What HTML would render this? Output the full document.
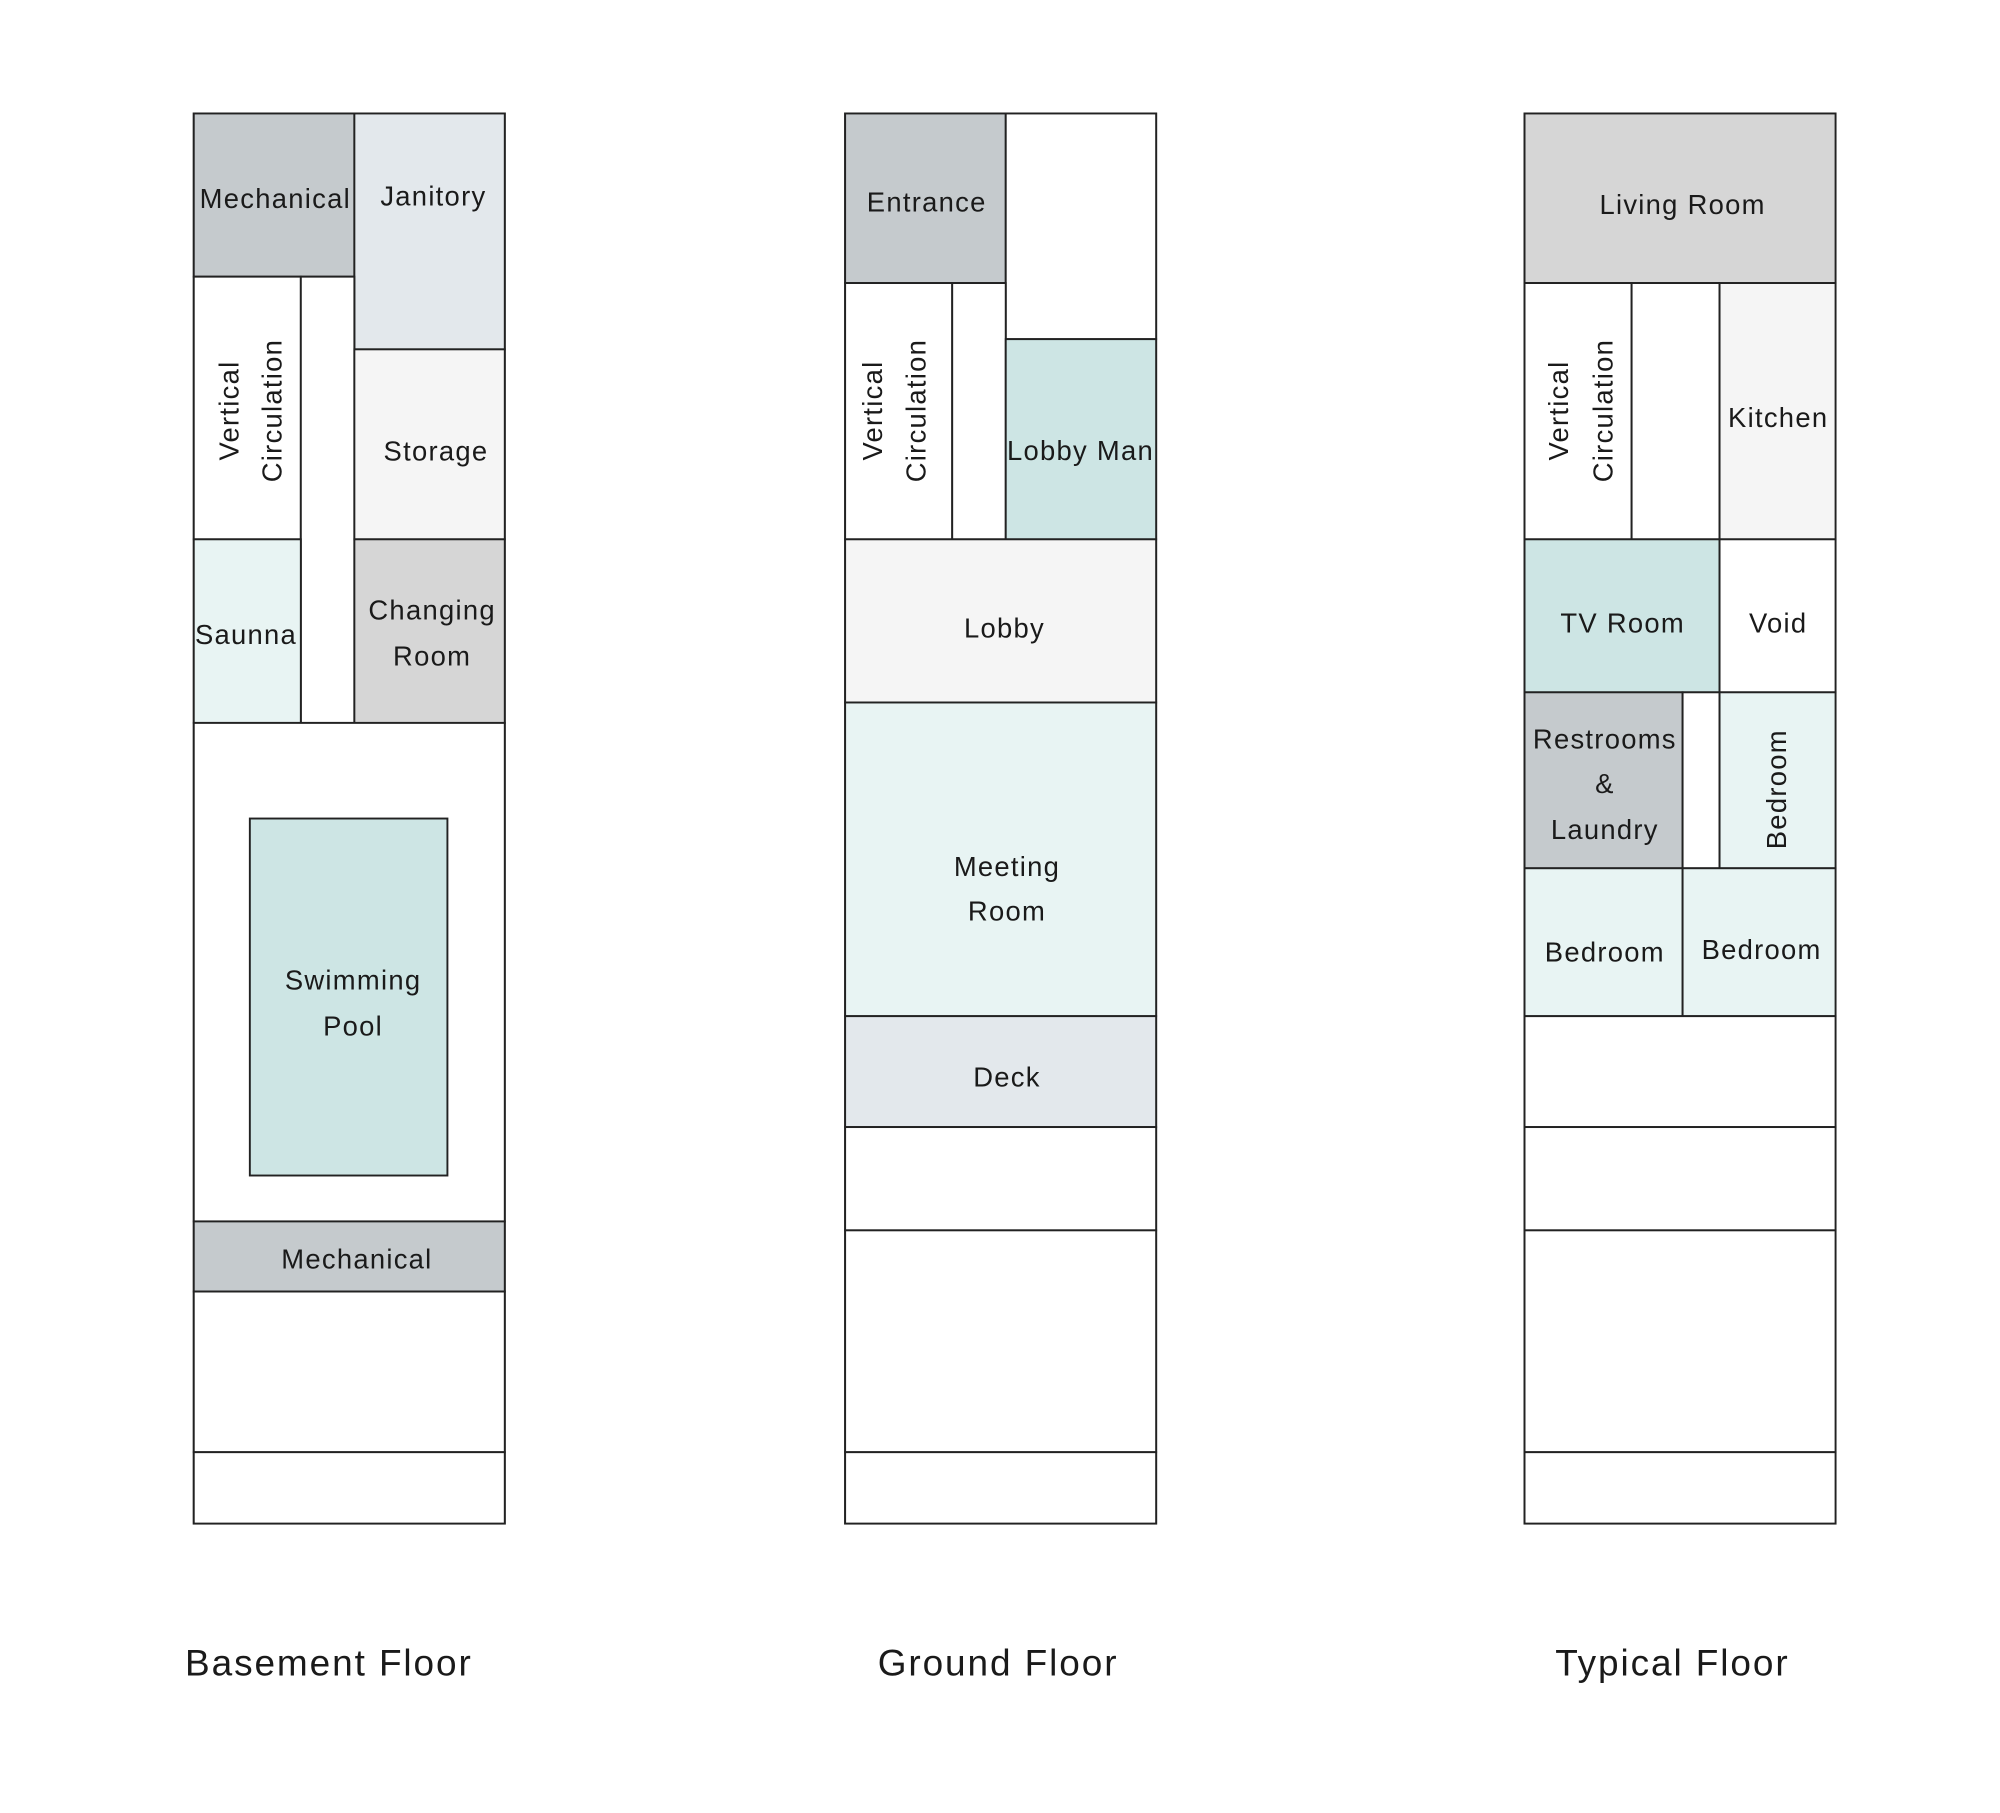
<!DOCTYPE html>
<html><head><meta charset="utf-8"><style>
html,body{margin:0;padding:0;background:#fff;}
svg{display:block;}
text{font-family:"Liberation Sans","DejaVu Sans",sans-serif;fill:#1a1a1a;font-size:21.5px;letter-spacing:1px;}
.t{font-size:29px;letter-spacing:1.5px;}
rect{stroke:#222;stroke-width:1.5;}
</style></head><body>
<svg width="2000" height="1813" viewBox="0 0 1569 1422" preserveAspectRatio="none" xmlns="http://www.w3.org/2000/svg">
<!-- Basement -->
<rect x="152" y="89" width="244" height="1106" fill="#fff"/>
<rect x="152" y="89" width="126" height="128" fill="#c5cacd"/>
<rect x="278" y="89" width="118" height="185" fill="#e3e8ec"/>
<rect x="152" y="217" width="84" height="206" fill="#fff"/>
<rect x="236" y="217" width="42" height="350" fill="#fff"/>
<rect x="278" y="274" width="118" height="149" fill="#f5f5f5"/>
<rect x="152" y="423" width="84" height="144" fill="#e8f4f3"/>
<rect x="278" y="423" width="118" height="144" fill="#d6d6d6"/>
<rect x="152" y="567" width="244" height="391" fill="#fff"/>
<rect x="196" y="642" width="155" height="280" fill="#cde5e4"/>
<rect x="152" y="958" width="244" height="55" fill="#c5cacd"/>
<rect x="152" y="1013" width="244" height="126" fill="#fff"/>
<rect x="152" y="1139" width="244" height="56" fill="#fff"/>
<text x="216" y="163" text-anchor="middle">Mechanical</text>
<text x="340" y="161" text-anchor="middle">Janitory</text>
<text transform="translate(187,322) rotate(-90)" text-anchor="middle">Vertical</text>
<text transform="translate(221,322) rotate(-90)" text-anchor="middle">Circulation</text>
<text x="342" y="361" text-anchor="middle">Storage</text>
<text x="193" y="505" text-anchor="middle">Saunna</text>
<text x="339" y="486" text-anchor="middle">Changing</text>
<text x="339" y="522" text-anchor="middle">Room</text>
<text x="277" y="776" text-anchor="middle">Swimming</text>
<text x="277" y="812" text-anchor="middle">Pool</text>
<text x="280" y="995" text-anchor="middle">Mechanical</text>
<text class="t" x="258" y="1314" text-anchor="middle">Basement Floor</text>
<!-- Ground -->
<rect x="663" y="89" width="244" height="1106" fill="#fff"/>
<rect x="663" y="89" width="126" height="133" fill="#c5cacd"/>
<rect x="789" y="89" width="118" height="177" fill="#fff"/>
<rect x="663" y="222" width="84" height="201" fill="#fff"/>
<rect x="747" y="222" width="42" height="201" fill="#fff"/>
<rect x="789" y="266" width="118" height="157" fill="#cde5e4"/>
<rect x="663" y="423" width="244" height="128" fill="#f5f5f5"/>
<rect x="663" y="551" width="244" height="246" fill="#e8f4f3"/>
<rect x="663" y="797" width="244" height="87" fill="#e3e8ec"/>
<rect x="663" y="884" width="244" height="81" fill="#fff"/>
<rect x="663" y="965" width="244" height="174" fill="#fff"/>
<rect x="663" y="1139" width="244" height="56" fill="#fff"/>
<text x="727" y="166" text-anchor="middle">Entrance</text>
<text transform="translate(692,322) rotate(-90)" text-anchor="middle">Vertical</text>
<text transform="translate(726,322) rotate(-90)" text-anchor="middle">Circulation</text>
<svg x="789" y="266" width="118" height="157"><text x="1" y="95">Lobby Man</text></svg>
<text x="788" y="500" text-anchor="middle">Lobby</text>
<text x="790" y="687" text-anchor="middle">Meeting</text>
<text x="790" y="722" text-anchor="middle">Room</text>
<text x="790" y="852" text-anchor="middle">Deck</text>
<text class="t" x="783" y="1314" text-anchor="middle">Ground Floor</text>
<!-- Typical -->
<rect x="1196" y="89" width="244" height="1106" fill="#fff"/>
<rect x="1196" y="89" width="244" height="133" fill="#d6d6d6"/>
<rect x="1196" y="222" width="84" height="201" fill="#fff"/>
<rect x="1280" y="222" width="69" height="201" fill="#fff"/>
<rect x="1349" y="222" width="91" height="201" fill="#f5f5f5"/>
<rect x="1196" y="423" width="153" height="120" fill="#cde5e4"/>
<rect x="1349" y="423" width="91" height="120" fill="#fff"/>
<rect x="1196" y="543" width="124" height="138" fill="#c5cacd"/>
<rect x="1320" y="543" width="29" height="138" fill="#fff"/>
<rect x="1349" y="543" width="91" height="138" fill="#e8f4f3"/>
<rect x="1196" y="681" width="124" height="116" fill="#e8f4f3"/>
<rect x="1320" y="681" width="120" height="116" fill="#e8f4f3"/>
<rect x="1196" y="797" width="244" height="87" fill="#fff"/>
<rect x="1196" y="884" width="244" height="81" fill="#fff"/>
<rect x="1196" y="965" width="244" height="174" fill="#fff"/>
<rect x="1196" y="1139" width="244" height="56" fill="#fff"/>
<text x="1320" y="168" text-anchor="middle">Living Room</text>
<text transform="translate(1230,322) rotate(-90)" text-anchor="middle">Vertical</text>
<text transform="translate(1265,322) rotate(-90)" text-anchor="middle">Circulation</text>
<text x="1395" y="335" text-anchor="middle">Kitchen</text>
<text x="1273" y="496" text-anchor="middle">TV Room</text>
<text x="1395" y="496" text-anchor="middle">Void</text>
<text x="1259" y="587" text-anchor="middle">Restrooms</text>
<text x="1259" y="622" text-anchor="middle">&amp;</text>
<text x="1259" y="658" text-anchor="middle">Laundry</text>
<text transform="translate(1401,619) rotate(-90)" text-anchor="middle">Bedroom</text>
<text x="1259" y="754" text-anchor="middle">Bedroom</text>
<text x="1382" y="752" text-anchor="middle">Bedroom</text>
<text class="t" x="1312" y="1314" text-anchor="middle">Typical Floor</text>
</svg>
</body></html>
